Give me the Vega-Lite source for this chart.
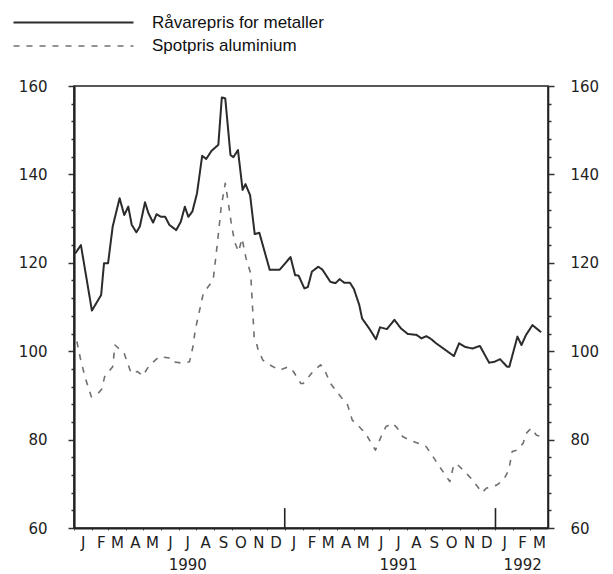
{
  "$schema": "https://vega.github.io/schema/vega-lite/v6.json",
  "width": 474,
  "height": 442,
  "autosize": {"type": "none"},
  "padding": {"left": 74, "top": 86, "right": 65, "bottom": 46},
  "background": "white",
  "config": {"view": {"stroke": "#222", "strokeWidth": 1.6}, "font": "DejaVu Sans"},
  "datasets": {
    "prices": [
      {"date": "1990-01-03", "series": "Råvarepris for metaller", "value": 122.1},
      {"date": "1990-01-13", "series": "Råvarepris for metaller", "value": 124.0},
      {"date": "1990-02-01", "series": "Råvarepris for metaller", "value": 109.2},
      {"date": "1990-02-17", "series": "Råvarepris for metaller", "value": 112.7},
      {"date": "1990-02-22", "series": "Råvarepris for metaller", "value": 119.9},
      {"date": "1990-03-01", "series": "Råvarepris for metaller", "value": 119.9},
      {"date": "1990-03-09", "series": "Råvarepris for metaller", "value": 128.2},
      {"date": "1990-03-21", "series": "Råvarepris for metaller", "value": 134.6},
      {"date": "1990-03-29", "series": "Råvarepris for metaller", "value": 130.8},
      {"date": "1990-04-05", "series": "Råvarepris for metaller", "value": 132.7},
      {"date": "1990-04-11", "series": "Råvarepris for metaller", "value": 128.6},
      {"date": "1990-04-19", "series": "Råvarepris for metaller", "value": 126.9},
      {"date": "1990-04-25", "series": "Råvarepris for metaller", "value": 128.2},
      {"date": "1990-05-04", "series": "Råvarepris for metaller", "value": 133.7},
      {"date": "1990-05-10", "series": "Råvarepris for metaller", "value": 131.2},
      {"date": "1990-05-18", "series": "Råvarepris for metaller", "value": 129.1},
      {"date": "1990-05-24", "series": "Råvarepris for metaller", "value": 131.0},
      {"date": "1990-06-01", "series": "Råvarepris for metaller", "value": 130.4},
      {"date": "1990-06-08", "series": "Råvarepris for metaller", "value": 130.4},
      {"date": "1990-06-15", "series": "Råvarepris for metaller", "value": 128.6},
      {"date": "1990-06-27", "series": "Råvarepris for metaller", "value": 127.4},
      {"date": "1990-07-05", "series": "Råvarepris for metaller", "value": 129.3},
      {"date": "1990-07-12", "series": "Råvarepris for metaller", "value": 132.7},
      {"date": "1990-07-18", "series": "Råvarepris for metaller", "value": 130.4},
      {"date": "1990-07-25", "series": "Råvarepris for metaller", "value": 131.6},
      {"date": "1990-08-02", "series": "Råvarepris for metaller", "value": 135.7},
      {"date": "1990-08-11", "series": "Råvarepris for metaller", "value": 144.2},
      {"date": "1990-08-18", "series": "Råvarepris for metaller", "value": 143.5},
      {"date": "1990-08-27", "series": "Råvarepris for metaller", "value": 145.3},
      {"date": "1990-09-08", "series": "Råvarepris for metaller", "value": 146.7},
      {"date": "1990-09-14", "series": "Råvarepris for metaller", "value": 157.4},
      {"date": "1990-09-20", "series": "Råvarepris for metaller", "value": 157.2},
      {"date": "1990-09-29", "series": "Råvarepris for metaller", "value": 144.4},
      {"date": "1990-10-04", "series": "Råvarepris for metaller", "value": 143.9},
      {"date": "1990-10-12", "series": "Råvarepris for metaller", "value": 145.5},
      {"date": "1990-10-20", "series": "Råvarepris for metaller", "value": 136.5},
      {"date": "1990-10-25", "series": "Råvarepris for metaller", "value": 137.8},
      {"date": "1990-11-02", "series": "Råvarepris for metaller", "value": 135.3},
      {"date": "1990-11-10", "series": "Råvarepris for metaller", "value": 126.5},
      {"date": "1990-11-18", "series": "Råvarepris for metaller", "value": 126.8},
      {"date": "1990-12-06", "series": "Råvarepris for metaller", "value": 118.4},
      {"date": "1990-12-23", "series": "Råvarepris for metaller", "value": 118.4},
      {"date": "1991-01-11", "series": "Råvarepris for metaller", "value": 121.3},
      {"date": "1991-01-19", "series": "Råvarepris for metaller", "value": 117.2},
      {"date": "1991-01-25", "series": "Råvarepris for metaller", "value": 117.1},
      {"date": "1991-02-04", "series": "Råvarepris for metaller", "value": 114.2},
      {"date": "1991-02-10", "series": "Råvarepris for metaller", "value": 114.5},
      {"date": "1991-02-17", "series": "Råvarepris for metaller", "value": 118.0},
      {"date": "1991-02-28", "series": "Råvarepris for metaller", "value": 119.1},
      {"date": "1991-03-07", "series": "Råvarepris for metaller", "value": 118.5},
      {"date": "1991-03-21", "series": "Råvarepris for metaller", "value": 115.7},
      {"date": "1991-03-30", "series": "Råvarepris for metaller", "value": 115.4},
      {"date": "1991-04-06", "series": "Råvarepris for metaller", "value": 116.3},
      {"date": "1991-04-14", "series": "Råvarepris for metaller", "value": 115.5},
      {"date": "1991-04-24", "series": "Råvarepris for metaller", "value": 115.5},
      {"date": "1991-05-01", "series": "Råvarepris for metaller", "value": 114.0},
      {"date": "1991-05-10", "series": "Råvarepris for metaller", "value": 110.5},
      {"date": "1991-05-15", "series": "Råvarepris for metaller", "value": 107.4},
      {"date": "1991-05-27", "series": "Råvarepris for metaller", "value": 105.2},
      {"date": "1991-06-08", "series": "Råvarepris for metaller", "value": 102.7},
      {"date": "1991-06-15", "series": "Råvarepris for metaller", "value": 105.4},
      {"date": "1991-06-27", "series": "Råvarepris for metaller", "value": 105.0},
      {"date": "1991-07-10", "series": "Råvarepris for metaller", "value": 107.1},
      {"date": "1991-07-21", "series": "Råvarepris for metaller", "value": 105.2},
      {"date": "1991-08-02", "series": "Råvarepris for metaller", "value": 103.9},
      {"date": "1991-08-17", "series": "Råvarepris for metaller", "value": 103.7},
      {"date": "1991-08-26", "series": "Råvarepris for metaller", "value": 102.9},
      {"date": "1991-09-03", "series": "Råvarepris for metaller", "value": 103.4},
      {"date": "1991-09-12", "series": "Råvarepris for metaller", "value": 102.7},
      {"date": "1991-09-20", "series": "Råvarepris for metaller", "value": 101.8},
      {"date": "1991-10-05", "series": "Råvarepris for metaller", "value": 100.4},
      {"date": "1991-10-21", "series": "Råvarepris for metaller", "value": 98.9},
      {"date": "1991-10-30", "series": "Råvarepris for metaller", "value": 101.8},
      {"date": "1991-11-09", "series": "Råvarepris for metaller", "value": 101.0},
      {"date": "1991-11-22", "series": "Råvarepris for metaller", "value": 100.6},
      {"date": "1991-12-05", "series": "Råvarepris for metaller", "value": 101.2},
      {"date": "1991-12-21", "series": "Råvarepris for metaller", "value": 97.4},
      {"date": "1991-12-30", "series": "Råvarepris for metaller", "value": 97.6},
      {"date": "1992-01-09", "series": "Råvarepris for metaller", "value": 98.2},
      {"date": "1992-01-21", "series": "Råvarepris for metaller", "value": 96.5},
      {"date": "1992-01-25", "series": "Råvarepris for metaller", "value": 96.5},
      {"date": "1992-02-08", "series": "Råvarepris for metaller", "value": 103.3},
      {"date": "1992-02-15", "series": "Råvarepris for metaller", "value": 101.4},
      {"date": "1992-02-23", "series": "Råvarepris for metaller", "value": 103.7},
      {"date": "1992-03-05", "series": "Råvarepris for metaller", "value": 105.9},
      {"date": "1992-03-20", "series": "Råvarepris for metaller", "value": 104.3},
      {"date": "1990-01-06", "series": "Spotpris aluminium", "value": 102.2},
      {"date": "1990-01-12", "series": "Spotpris aluminium", "value": 98.4},
      {"date": "1990-01-20", "series": "Spotpris aluminium", "value": 94.2},
      {"date": "1990-01-31", "series": "Spotpris aluminium", "value": 89.7},
      {"date": "1990-02-12", "series": "Spotpris aluminium", "value": 90.5},
      {"date": "1990-02-18", "series": "Spotpris aluminium", "value": 91.4},
      {"date": "1990-02-23", "series": "Spotpris aluminium", "value": 94.2},
      {"date": "1990-03-09", "series": "Spotpris aluminium", "value": 96.5},
      {"date": "1990-03-13", "series": "Spotpris aluminium", "value": 101.4},
      {"date": "1990-03-29", "series": "Spotpris aluminium", "value": 99.5},
      {"date": "1990-04-10", "series": "Spotpris aluminium", "value": 95.0},
      {"date": "1990-04-21", "series": "Spotpris aluminium", "value": 95.4},
      {"date": "1990-04-30", "series": "Spotpris aluminium", "value": 94.4},
      {"date": "1990-05-11", "series": "Spotpris aluminium", "value": 96.7},
      {"date": "1990-05-29", "series": "Spotpris aluminium", "value": 98.8},
      {"date": "1990-06-18", "series": "Spotpris aluminium", "value": 98.4},
      {"date": "1990-06-21", "series": "Spotpris aluminium", "value": 97.6},
      {"date": "1990-07-08", "series": "Spotpris aluminium", "value": 97.3},
      {"date": "1990-07-20", "series": "Spotpris aluminium", "value": 97.6},
      {"date": "1990-07-26", "series": "Spotpris aluminium", "value": 101.0},
      {"date": "1990-07-30", "series": "Spotpris aluminium", "value": 104.8},
      {"date": "1990-08-13", "series": "Spotpris aluminium", "value": 113.1},
      {"date": "1990-08-30", "series": "Spotpris aluminium", "value": 116.1},
      {"date": "1990-09-03", "series": "Spotpris aluminium", "value": 120.6},
      {"date": "1990-09-07", "series": "Spotpris aluminium", "value": 125.2},
      {"date": "1990-09-13", "series": "Spotpris aluminium", "value": 132.7},
      {"date": "1990-09-20", "series": "Spotpris aluminium", "value": 138.0},
      {"date": "1990-09-25", "series": "Spotpris aluminium", "value": 133.8},
      {"date": "1990-09-30", "series": "Spotpris aluminium", "value": 129.3},
      {"date": "1990-10-06", "series": "Spotpris aluminium", "value": 124.8},
      {"date": "1990-10-13", "series": "Spotpris aluminium", "value": 122.5},
      {"date": "1990-10-19", "series": "Spotpris aluminium", "value": 125.5},
      {"date": "1990-10-26", "series": "Spotpris aluminium", "value": 121.0},
      {"date": "1990-11-03", "series": "Spotpris aluminium", "value": 117.6},
      {"date": "1990-11-09", "series": "Spotpris aluminium", "value": 103.3},
      {"date": "1990-11-13", "series": "Spotpris aluminium", "value": 101.8},
      {"date": "1990-11-16", "series": "Spotpris aluminium", "value": 100.3},
      {"date": "1990-11-24", "series": "Spotpris aluminium", "value": 98.0},
      {"date": "1990-12-06", "series": "Spotpris aluminium", "value": 96.9},
      {"date": "1990-12-23", "series": "Spotpris aluminium", "value": 95.7},
      {"date": "1991-01-07", "series": "Spotpris aluminium", "value": 96.5},
      {"date": "1991-01-16", "series": "Spotpris aluminium", "value": 95.4},
      {"date": "1991-01-29", "series": "Spotpris aluminium", "value": 92.7},
      {"date": "1991-02-02", "series": "Spotpris aluminium", "value": 92.7},
      {"date": "1991-02-19", "series": "Spotpris aluminium", "value": 95.4},
      {"date": "1991-03-04", "series": "Spotpris aluminium", "value": 96.9},
      {"date": "1991-03-10", "series": "Spotpris aluminium", "value": 96.1},
      {"date": "1991-03-21", "series": "Spotpris aluminium", "value": 92.7},
      {"date": "1991-04-08", "series": "Spotpris aluminium", "value": 89.7},
      {"date": "1991-04-20", "series": "Spotpris aluminium", "value": 87.8},
      {"date": "1991-04-28", "series": "Spotpris aluminium", "value": 84.4},
      {"date": "1991-05-10", "series": "Spotpris aluminium", "value": 82.9},
      {"date": "1991-05-21", "series": "Spotpris aluminium", "value": 81.4},
      {"date": "1991-06-07", "series": "Spotpris aluminium", "value": 77.6},
      {"date": "1991-06-17", "series": "Spotpris aluminium", "value": 80.7},
      {"date": "1991-06-25", "series": "Spotpris aluminium", "value": 82.9},
      {"date": "1991-07-07", "series": "Spotpris aluminium", "value": 83.7},
      {"date": "1991-07-15", "series": "Spotpris aluminium", "value": 82.6},
      {"date": "1991-07-24", "series": "Spotpris aluminium", "value": 80.7},
      {"date": "1991-08-05", "series": "Spotpris aluminium", "value": 79.9},
      {"date": "1991-08-20", "series": "Spotpris aluminium", "value": 79.2},
      {"date": "1991-09-03", "series": "Spotpris aluminium", "value": 78.4},
      {"date": "1991-09-15", "series": "Spotpris aluminium", "value": 76.1},
      {"date": "1991-09-26", "series": "Spotpris aluminium", "value": 73.9},
      {"date": "1991-10-14", "series": "Spotpris aluminium", "value": 70.5},
      {"date": "1991-10-20", "series": "Spotpris aluminium", "value": 73.9},
      {"date": "1991-10-25", "series": "Spotpris aluminium", "value": 74.6},
      {"date": "1991-11-06", "series": "Spotpris aluminium", "value": 73.1},
      {"date": "1991-11-20", "series": "Spotpris aluminium", "value": 71.2},
      {"date": "1991-12-09", "series": "Spotpris aluminium", "value": 68.0},
      {"date": "1991-12-16", "series": "Spotpris aluminium", "value": 69.0},
      {"date": "1992-01-03", "series": "Spotpris aluminium", "value": 69.7},
      {"date": "1992-01-15", "series": "Spotpris aluminium", "value": 70.9},
      {"date": "1992-01-24", "series": "Spotpris aluminium", "value": 73.1},
      {"date": "1992-01-30", "series": "Spotpris aluminium", "value": 77.3},
      {"date": "1992-02-07", "series": "Spotpris aluminium", "value": 77.6},
      {"date": "1992-02-18", "series": "Spotpris aluminium", "value": 79.2},
      {"date": "1992-02-23", "series": "Spotpris aluminium", "value": 81.4},
      {"date": "1992-03-03", "series": "Spotpris aluminium", "value": 82.6},
      {"date": "1992-03-12", "series": "Spotpris aluminium", "value": 81.0},
      {"date": "1992-03-20", "series": "Spotpris aluminium", "value": 80.7}
    ],
    "yearticks": [{"date": "1991-01-01"}, {"date": "1992-01-01"}]
  },
  "layer": [
    {
      "data": {"name": "prices"},
      "mark": {"type": "line", "strokeJoin": "round"},
      "encoding": {
        "x": {
          "field": "date",
          "type": "temporal",
          "scale": {
            "type": "utc",
            "domain": [
              {"year": 1990, "month": 1, "date": 1, "utc": true},
              {"year": 1992, "month": 3, "date": 31, "hours": 23, "utc": true}
            ]
          },
          "axis": {
            "title": null,
            "tickCount": {"interval": "month", "step": 1},
            "labelExpr": "(utcmonth(datum.value) == 6 || (utcyear(datum.value) == 1992 && utcmonth(datum.value) == 1)) ? [substring(utcFormat(datum.value, '%b'), 0, 1), utcFormat(datum.value, '%Y')] : substring(utcFormat(datum.value, '%b'), 0, 1)",
            "labelOffset": 8.8,
            "labelPadding": 5,
            "labelAlign": "center",
            "labelBaseline": "top",
            "labelLineHeight": 22,
            "labelFontSize": 15,
            "labelColor": "#222",
            "labelOverlap": false,
            "labelFlush": false,
            "labelBound": false,
            "tickSize": 2,
            "tickColor": "#555",
            "domainColor": "#222",
            "domainWidth": 2.2,
            "grid": false
          }
        },
        "y": {
          "field": "value",
          "type": "quantitative",
          "scale": {"domain": [60, 160], "nice": false, "zero": false},
          "axis": {
            "title": null,
            "orient": "left",
            "values": [60, 64, 68, 72, 76, 80, 84, 88, 92, 96, 100, 104, 108, 112, 116, 120, 124, 128, 132, 136, 140, 144, 148, 152, 156, 160],
            "labelExpr": "datum.value % 20 == 0 ? datum.label : ''",
            "tickSize": {"condition": {"test": "datum.value % 20 == 0", "value": 6}, "value": 3},
            "tickColor": "#333",
            "tickWidth": 1.5,
            "labelPadding": 21,
            "labelFontSize": 15,
            "labelColor": "#222",
            "labelOverlap": false,
            "domainColor": "#222",
            "domainWidth": 2.2,
            "grid": false
          }
        },
        "color": {
          "field": "series",
          "type": "nominal",
          "scale": {"domain": ["Råvarepris for metaller", "Spotpris aluminium"], "range": ["#2b2b2b", "#707070"]},
          "legend": {
            "title": null,
            "orient": "none",
            "legendX": -9,
            "legendY": -72,
            "padding": 0,
            "symbolType": "M-12,0H12",
            "symbolSize": 100,
            "symbolStrokeWidth": 1.8,
            "symbolFillColor": "transparent",
            "labelFont": "Liberation Sans",
            "labelFontSize": 17,
            "labelColor": "#111",
            "labelLimit": 400,
            "labelOffset": 70,
            "rowPadding": 5.5
          }
        },
        "strokeDash": {
          "field": "series",
          "type": "nominal",
          "scale": {"domain": ["Råvarepris for metaller", "Spotpris aluminium"], "range": [[1, 0], [6, 7]]},
          "legend": {
            "title": null,
            "orient": "none",
            "legendX": -9,
            "legendY": -72,
            "padding": 0,
            "symbolType": "M-12,0H12",
            "symbolSize": 100,
            "symbolStrokeWidth": 1.8,
            "symbolFillColor": "transparent",
            "labelFont": "Liberation Sans",
            "labelFontSize": 17,
            "labelColor": "#111",
            "labelLimit": 400,
            "labelOffset": 70,
            "rowPadding": 5.5
          }
        },
        "strokeWidth": {
          "field": "series",
          "type": "nominal",
          "scale": {"domain": ["Råvarepris for metaller", "Spotpris aluminium"], "range": [2, 1.6]},
          "legend": {
            "title": null,
            "orient": "none",
            "legendX": -9,
            "legendY": -72,
            "padding": 0,
            "symbolType": "M-12,0H12",
            "symbolSize": 100,
            "symbolFillColor": "transparent",
            "labelFont": "Liberation Sans",
            "labelFontSize": 17,
            "labelColor": "#111",
            "labelLimit": 400,
            "labelOffset": 70,
            "rowPadding": 5.5
          }
        }
      }
    },
    {
      "data": {"name": "yearticks"},
      "mark": {"type": "rule", "color": "#222", "strokeWidth": 1.6},
      "encoding": {
        "x": {"field": "date", "type": "temporal"},
        "y": {
          "datum": 60,
          "type": "quantitative",
          "axis": {
            "title": null,
            "orient": "right",
            "values": [60, 64, 68, 72, 76, 80, 84, 88, 92, 96, 100, 104, 108, 112, 116, 120, 124, 128, 132, 136, 140, 144, 148, 152, 156, 160],
            "labelExpr": "datum.value % 20 == 0 ? datum.label : ''",
            "tickSize": {"condition": {"test": "datum.value % 20 == 0", "value": 6}, "value": 3},
            "tickColor": "#333",
            "tickWidth": 1.5,
            "labelPadding": 16,
            "labelFontSize": 15,
            "labelColor": "#222",
            "labelOverlap": false,
            "domainColor": "#222",
            "domainWidth": 1.6,
            "grid": false
          }
        },
        "y2": {"datum": 64.5}
      }
    }
  ],
  "resolve": {"axis": {"y": "independent"}}
}
